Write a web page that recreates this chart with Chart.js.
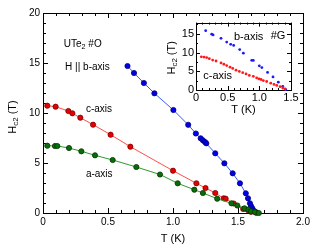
<!DOCTYPE html>
<html>
<head>
<meta charset="utf-8">
<script src="https://cdn.jsdelivr.net/npm/chart.js@4.4.1/dist/chart.umd.min.js"></script>
<style>
body { margin: 0; background: #fff; }
#wrap { position: relative; width: 332px; height: 250px; }
#main { position: absolute; left: 0; top: 0; }
#inset { position: absolute; left: 160px; top: 14px; }
</style>
</head>
<body>
<div id="wrap">
  <canvas id="main" width="332" height="250"></canvas>
  <canvas id="inset" width="140" height="104"></canvas>
</div>
<script>
// main panel, sample #O
var cAxisT = [0.033,0.097,0.195,0.226,0.287,0.385,0.52,0.672,1.0,1.18,1.25,1.325,1.39,1.405,1.467,1.54,1.575,1.6,1.64];
var cAxisH = [10.73,10.63,10.2,9.97,9.53,8.83,7.83,6.63,4.23,2.97,2.5,2.0,1.47,1.43,0.95,0.4,0.3,0.12,0.02];
var aAxisT = [0.033,0.092,0.11,0.2,0.295,0.4,0.536,0.718,0.9,1.036,1.164,1.23,1.34,1.45,1.495,1.55,1.58,1.6,1.63,1.66];
var aAxisH = [6.73,6.7,6.7,6.5,6.17,5.77,5.3,4.6,3.85,2.97,2.33,2.0,1.43,0.97,0.75,0.47,0.35,0.17,0.1,0.0];
var bAxisT = [0.65,0.7,0.776,0.857,1.003,1.117,1.176,1.213,1.23,1.246,1.256,1.325,1.395,1.459,1.515,1.56,1.577,1.592,1.6,1.61,1.625,1.64];
var bAxisH = [14.7,14.0,13.0,11.97,10.3,8.82,7.95,7.47,7.27,7.1,6.97,5.97,4.97,3.97,2.97,1.97,1.47,0.97,0.7,0.47,0.2,0.07];

// inset, sample #G
var gBT = [0.153,0.248,0.27,0.395,0.485,0.548,0.595,0.69,0.748,0.88,0.905,1.0,1.04,1.13,1.216,1.3,1.37,1.417];
var gBH = [15.85,14.9,14.7,13.8,12.8,12.2,11.9,10.8,9.84,7.93,7.9,6.45,6.0,4.7,3.5,2.1,0.97,0.1];
var gCT = [0.084,0.126,0.168,0.21,0.263,0.316,0.395,0.44,0.485,0.537,0.58,0.632,0.684,0.737,0.79,0.842,0.905,0.958,0.995,1.027,1.063,1.116,1.18,1.232,1.275,1.327,1.37,1.406];
var gCH = [8.87,8.8,8.66,8.36,8.0,7.75,7.23,6.88,6.53,6.1,5.75,5.3,4.97,4.62,4.28,3.9,3.66,3.23,2.97,2.8,2.53,2.27,1.83,1.49,1.23,0.88,0.53,0.27];

var mainXTicks = [0, 0.5, 1.0, 1.5, 2.0];
var mainYTicks = [0, 5, 10, 15, 20];
var insetXTicks = [0, 0.5, 1.0, 1.5];
var insetYTicks = [0, 5, 10, 15];

var FONT = "'Liberation Sans', Arial, sans-serif";

function pts(xs, ys) {
  return xs.map(function (v, i) { return {x: v, y: ys[i]}; });
}

// text with subscripts: parts = [[text, isSub], ...]
function richText(ctx, parts, x, y, size, align) {
  var w = 0;
  parts.forEach(function (p) {
    ctx.font = (p[1] ? size * 0.72 : size) + 'px ' + FONT;
    w += ctx.measureText(p[0]).width;
  });
  var cx = align === 'center' ? x - w / 2 : x;
  ctx.textAlign = 'left';
  ctx.textBaseline = 'middle';
  parts.forEach(function (p) {
    ctx.font = (p[1] ? size * 0.72 : size) + 'px ' + FONT;
    ctx.fillText(p[0], cx, p[1] ? y + size * 0.3 : y);
    cx += ctx.measureText(p[0]).width;
  });
}

var frame = {
  id: 'frame',
  beforeDatasetsDraw: function (chart, args, o) {
    var ctx = chart.ctx, a = chart.chartArea, x = chart.scales.x, y = chart.scales.y;
    ctx.save();
    ctx.fillStyle = '#fff';
    ctx.fillRect(a.left, a.top, a.width, a.height);
    ctx.strokeStyle = '#000';
    ctx.lineWidth = 1;
    ctx.beginPath();
    var n = Math.round((x.max - x.min) / o.xMinor);
    for (var i = 0; i <= n; i++) {
      var px = Math.round(x.getPixelForValue(x.min + i * o.xMinor)) + 0.5;
      var L = i % o.xEvery === 0 ? o.major : o.minor;
      ctx.moveTo(px, a.bottom); ctx.lineTo(px, a.bottom - L);
      ctx.moveTo(px, a.top); ctx.lineTo(px, a.top + L);
    }
    var m = Math.round((y.max - y.min) / o.yMinor);
    for (var j = 0; j <= m; j++) {
      var py = Math.round(y.getPixelForValue(y.min + j * o.yMinor)) + 0.5;
      var K = j % o.yEvery === 0 ? o.major : o.minor;
      ctx.moveTo(a.left, py); ctx.lineTo(a.left + K, py);
      ctx.moveTo(a.right, py); ctx.lineTo(a.right - K, py);
    }
    ctx.stroke();
    ctx.strokeRect(Math.round(a.left) + 0.5, Math.round(a.top) + 0.5, Math.round(a.width), Math.round(a.height));
    ctx.restore();
  }
};

var notes = {
  id: 'notes',
  afterDraw: function (chart, args, o) {
    var ctx = chart.ctx, a = chart.chartArea, x = chart.scales.x, y = chart.scales.y;
    ctx.save();
    ctx.fillStyle = '#000';
    o.items.forEach(function (it) {
      richText(ctx, it.parts, x.getPixelForValue(it.at[0]), y.getPixelForValue(it.at[1]), o.size, 'left');
    });
    richText(ctx, o.xTitle, (a.left + a.right) / 2, a.bottom + o.xOff, o.titleSize, 'center');
    ctx.translate(o.yX, (a.top + a.bottom) / 2 + o.yShift);
    ctx.rotate(-Math.PI / 2);
    richText(ctx, o.yTitle, 0, 0, o.titleSize, 'center');
    ctx.restore();
  }
};

function tickFmt(v) {
  if (v === 0) return '0';
  return this.axis === 'x' ? v.toFixed(1) : String(v);
}

function axis(min, max, step, list, size, pad, fit) {
  return {
    type: 'linear', min: min, max: max,
    grid: { display: false, drawTicks: false },
    border: { display: false },
    afterBuildTicks: function (s) { s.ticks = list.map(function (v) { return {value: v}; }); },
    afterFit: fit,
    ticks: {
      stepSize: step, autoSkip: false, maxRotation: 0, padding: pad,
      color: '#000', font: { family: FONT, size: size },
      callback: tickFmt
    }
  };
}

function series(xs, ys, line, fill, edge, r) {
  return {
    data: pts(xs, ys),
    showLine: !!line,
    borderColor: line || fill,
    borderWidth: 1,
    pointRadius: r,
    pointBackgroundColor: fill,
    pointBorderColor: edge,
    pointBorderWidth: edge ? 0.8 : 0,
    clip: false
  };
}

new Chart(document.getElementById('main'), {
  type: 'scatter',
  data: {
    datasets: [
      series(aAxisT, aAxisH, '#2f9a2f', '#0a6b0a', '#003800', 2.6),
      series(cAxisT, cAxisH, '#ff4d4d', '#e60000', '#7a0000', 2.6),
      series(bAxisT, bAxisH, '#3b5bff', '#0000e6', '#000080', 2.6)
    ]
  },
  options: {
    responsive: false,
    devicePixelRatio: 1,
    animation: false,
    layout: { padding: { left: 0, top: 13, right: 29, bottom: 0 } },
    scales: {
      x: axis(0, 2, 0.5, mainXTicks, 10, 3, function (s) { s.height = 37; }),
      y: axis(0, 20, 5, mainYTicks, 10, 3, function (s) { s.width = 43; })
    },
    plugins: {
      legend: { display: false },
      tooltip: { enabled: false },
      frame: { xMinor: 0.1, xEvery: 5, yMinor: 1, yEvery: 5, major: 5, minor: 3 },
      notes: {
        size: 10, titleSize: 11,
        items: [
          { parts: [['UTe'], ['2', true], [' #O']], at: [0.16, 16.9] },
          { parts: [['H || b-axis']], at: [0.17, 14.6] },
          { parts: [['c-axis']], at: [0.33, 10.4] },
          { parts: [['a-axis']], at: [0.33, 3.9] }
        ],
        xTitle: [['T (K)']], xOff: 26,
        yTitle: [['H'], ['c2', true], [' (T)']], yX: 13, yShift: 4
      }
    }
  },
  plugins: [frame, notes]
});

new Chart(document.getElementById('inset'), {
  type: 'scatter',
  data: {
    datasets: [
      series(gCT, gCH, null, '#ff1a1a', null, 1.4),
      series(gBT, gBH, null, '#1a1aff', null, 1.4)
    ]
  },
  options: {
    responsive: false,
    devicePixelRatio: 1,
    animation: false,
    layout: { padding: { left: 0, top: 7, right: 9, bottom: 0 } },
    scales: {
      x: axis(0, 1.5, 0.5, insetXTicks, 11, 1, function (s) { s.height = 28; }),
      y: axis(0, 18, 5, insetYTicks, 11, 2, function (s) { s.width = 36; })
    },
    plugins: {
      legend: { display: false },
      tooltip: { enabled: false },
      frame: { xMinor: 0.1, xEvery: 5, yMinor: 2.5, yEvery: 2, major: 4, minor: 2 },
      notes: {
        size: 11, titleSize: 11,
        items: [
          { parts: [['b-axis']], at: [0.6, 14.1] },
          { parts: [['#G']], at: [1.18, 14.5] },
          { parts: [['c-axis']], at: [0.115, 3.7] }
        ],
        xTitle: [['T (K)']], xOff: 20,
        yTitle: [['H'], ['c2', true], [' (T)']], yX: 12, yShift: 1.5
      }
    }
  },
  plugins: [frame, notes]
});
</script>
</body>
</html>
